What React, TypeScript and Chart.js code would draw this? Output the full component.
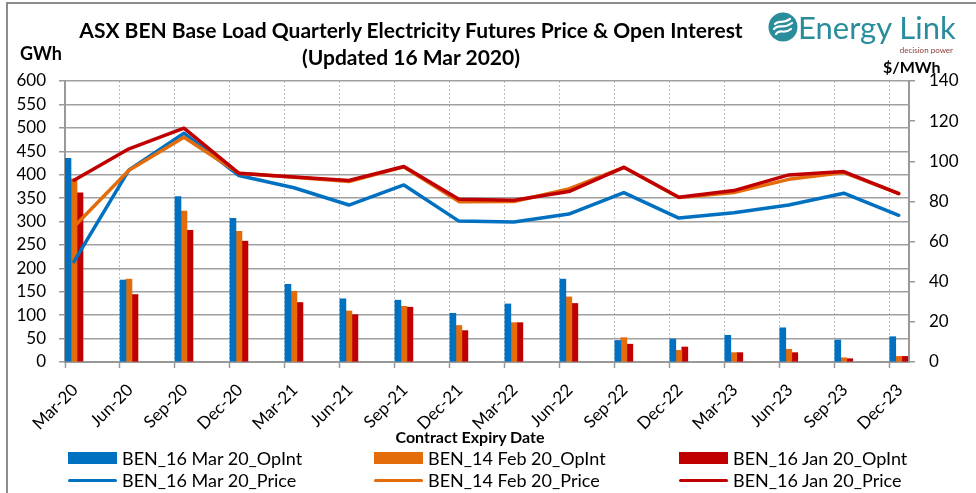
import React, { useEffect, useRef } from "react";
import { Chart, registerables } from "chart.js";

Chart.register(...registerables);

const categories = ["Mar-20", "Jun-20", "Sep-20", "Dec-20", "Mar-21", "Jun-21", "Sep-21", "Dec-21", "Mar-22", "Jun-22", "Sep-22", "Dec-22", "Mar-23", "Jun-23", "Sep-23", "Dec-23"];
const opIntMar20 = [435, 175, 353, 307, 166, 135, 132, 104, 124, 177, 46, 49, 57, 73, 47, 54];
const opIntFeb20 = [391, 177, 322, 279, 151, 109, 119, 78, 84, 139, 52, 25, 20, 27, 9, 12];
const opIntJan20 = [361, 144, 281, 258, 127, 101, 117, 67, 84, 125, 38, 32, 20, 20, 7, 12];
const priceMar20 = [50, 95.7, 114, 92.9, 86.8, 78.2, 88.2, 70.2, 69.8, 73.7, 84.4, 71.7, 74.4, 78.2, 84.1, 73.1];
const priceFeb20 = [67.4, 95.5, 112, 94, 92, 89.9, 97.2, 79.9, 80, 86.2, 97, 82, 84.4, 91, 94.4, 84];
const priceJan20 = [90.6, 106.2, 116.5, 94, 92.2, 90.4, 97.4, 81.1, 80.6, 84.9, 97, 82.1, 85.4, 93.2, 94.9, 83.9];
const gwhTicks = { min: 0, max: 600, step: 50 };
const priceTicks = { min: 0, max: 140, step: 20 };

const BLUE = "#0070C0";
const ORANGE = "#E46C0A";
const RED = "#C00000";
const FONT = "Lato, 'Open Sans', sans-serif";

const legendItems = [
  { label: "BEN_16 Mar 20_OpInt", color: BLUE, kind: "bar" },
  { label: "BEN_14 Feb 20_OpInt", color: ORANGE, kind: "bar" },
  { label: "BEN_16 Jan 20_OpInt", color: RED, kind: "bar" },
  { label: "BEN_16 Mar 20_Price", color: BLUE, kind: "line" },
  { label: "BEN_14 Feb 20_Price", color: ORANGE, kind: "line" },
  { label: "BEN_16 Jan 20_Price", color: RED, kind: "line" },
];

export default function App() {
  const ref = useRef<HTMLCanvasElement>(null);

  useEffect(() => {
    const groupOffset = 0.1636;
    const pts = (arr: number[]) => arr.map((v, i) => ({ x: i + groupOffset, y: v }));
    const tickFont = { family: FONT, size: 17 };
    const lineCommon = { type: "line", borderWidth: 3.5, pointRadius: 0, yAxisID: "y1", borderJoinStyle: "round", borderCapStyle: "round" };
    const chart = new Chart(ref.current!, {
      type: "bar",
      data: {
        datasets: [
          { type: "bar", label: legendItems[0].label, data: pts(opIntMar20), backgroundColor: BLUE, barThickness: 6, yAxisID: "y", order: 10 },
          { type: "bar", label: legendItems[1].label, data: pts(opIntFeb20), backgroundColor: ORANGE, barThickness: 6, yAxisID: "y", order: 11 },
          { type: "bar", label: legendItems[2].label, data: pts(opIntJan20), backgroundColor: RED, barThickness: 6, yAxisID: "y", order: 12 },
          { ...lineCommon, label: legendItems[3].label, data: pts(priceMar20), borderColor: BLUE, backgroundColor: BLUE, order: 2 },
          { ...lineCommon, label: legendItems[4].label, data: pts(priceFeb20), borderColor: ORANGE, backgroundColor: ORANGE, order: 1 },
          { ...lineCommon, label: legendItems[5].label, data: pts(priceJan20), borderColor: RED, backgroundColor: RED, order: 0 },
        ],
      },
      options: {
        animation: false,
        responsive: false,
        maintainAspectRatio: false,
        layout: { padding: { top: 81, left: 0, right: 0, bottom: 51 } },
        plugins: { legend: { display: false }, tooltip: { enabled: false }, title: { display: false } },
        scales: {
          x: {
            type: "linear",
            min: 0,
            max: 15.35,
            offset: false,
            afterBuildTicks: (s: any) => {
              s.ticks = categories.map((_, i) => ({ value: i }));
            },
            afterFit: (s: any) => {
              s.height = 80;
            },
            ticks: {
              callback: (v: any) => categories[Math.round(Number(v))],
              minRotation: 45,
              maxRotation: 45,
              autoSkip: false,
              font: tickFont,
              color: "#000",
              padding: 12,
              labelOffset: 10,
            },
            grid: { offset: false, color: "#bdbdbd", lineWidth: 1, tickColor: "#999", tickLength: 6, tickBorderDash: [], tickWidth: 1.5 },
            border: { color: "#999", width: 2, dash: [2, 2] },
          },
          y: {
            position: "left",
            min: gwhTicks.min,
            max: gwhTicks.max,
            afterFit: (s: any) => {
              s.width = 65;
            },
            ticks: { stepSize: gwhTicks.step, font: tickFont, color: "#000", padding: 13 },
            grid: { color: "#a0a0a0", lineWidth: 1.5, tickLength: 6, tickColor: "#999" },
            border: { color: "#999", width: 2 },
          },
          y1: {
            position: "right",
            min: priceTicks.min,
            max: priceTicks.max,
            afterFit: (s: any) => {
              s.width = 67;
            },
            ticks: { stepSize: priceTicks.step, font: tickFont, color: "#000", padding: 14 },
            grid: { drawOnChartArea: false, tickLength: 6, color: "#999", lineWidth: 1.5 },
            border: { color: "#999", width: 2 },
          },
        },
      },
    } as any);
    return () => chart.destroy();
  }, []);

  const colLeft = [68, 374, 679];
  const rowY = [458, 480];

  return (
    <div style={{ position: "absolute", left: 0, top: 0, width: 976, height: 493, background: "#fff", fontFamily: FONT, overflow: "hidden" }}>
      <div style={{ position: "absolute", left: 6, top: 2, width: 980, height: 500, borderTop: "2px solid #8c8c8c", borderLeft: "2px solid #8c8c8c", boxSizing: "border-box" }} />
      <canvas ref={ref} width={976} height={493} style={{ position: "absolute", left: 0, top: 0, width: 976, height: 493 }} />
      <div style={{ position: "absolute", left: 411, top: 30, transform: "translate(-50%,-50%)", whiteSpace: "nowrap", fontWeight: 700, fontSize: 21, color: "#000", lineHeight: "24px" }}>
        ASX BEN Base Load Quarterly Electricity Futures Price &amp; Open Interest
      </div>
      <div style={{ position: "absolute", left: 411, top: 57, transform: "translate(-50%,-50%)", whiteSpace: "nowrap", fontWeight: 700, fontSize: 21, color: "#000", lineHeight: "24px" }}>
        (Updated 16 Mar 2020)
      </div>
      <div style={{ position: "absolute", left: 20, top: 53, transform: "translate(0,-50%)", whiteSpace: "nowrap", fontWeight: 700, fontSize: 18, lineHeight: "20px" }}>GWh</div>
      <div style={{ position: "absolute", left: 883, top: 67, transform: "translate(0,-50%)", whiteSpace: "nowrap", fontWeight: 700, fontSize: 16, lineHeight: "20px" }}>$/MWh</div>
      <div style={{ position: "absolute", left: 470, top: 437, transform: "translate(-50%,-50%)", whiteSpace: "nowrap", fontWeight: 700, fontSize: 16, lineHeight: "18px" }}>Contract Expiry Date</div>
      {legendItems.map((it, i) => {
        const col = i % 3;
        const row = Math.floor(i / 3);
        const x = colLeft[col];
        const y = rowY[row];
        return (
          <div key={it.label}>
            {it.kind === "bar" ? (
              <div style={{ position: "absolute", left: x, top: y - 6, width: 49, height: 12, background: it.color }} />
            ) : (
              <div style={{ position: "absolute", left: x, top: y - 1.5, width: 49, height: 3.5, background: it.color, borderRadius: 2 }} />
            )}
            <div style={{ position: "absolute", left: x + 54, top: y, transform: "translate(0,-50%)", whiteSpace: "nowrap", fontSize: 18, lineHeight: "20px", color: "#000" }}>{it.label}</div>
          </div>
        );
      })}
      <svg style={{ position: "absolute", left: 768, top: 12 }} width={30} height={30} viewBox="0 0 30 30">
        <circle cx={15} cy={15} r={14.5} fill="#2a8d9c" />
        <path d="M7 12 C 11 7, 14 13, 22 7" stroke="#fff" strokeWidth={2.2} fill="none" strokeLinecap="round" />
        <path d="M6 17 C 11 11, 15 18, 24 11" stroke="#fff" strokeWidth={2.2} fill="none" strokeLinecap="round" />
        <path d="M8 22 C 12 16, 16 23, 23 17" stroke="#fff" strokeWidth={2.2} fill="none" strokeLinecap="round" />
      </svg>
      <div style={{ position: "absolute", left: 798, top: 27, transform: "translate(0,-50%)", whiteSpace: "nowrap", fontSize: 31, lineHeight: "36px", color: "#2a8d9c" }}>Energy Link</div>
      <div style={{ position: "absolute", right: 23, top: 50, transform: "translate(0,-50%)", whiteSpace: "nowrap", fontSize: 8, lineHeight: "10px", color: "#8a3b3b" }}>decision power</div>
    </div>
  );
}
